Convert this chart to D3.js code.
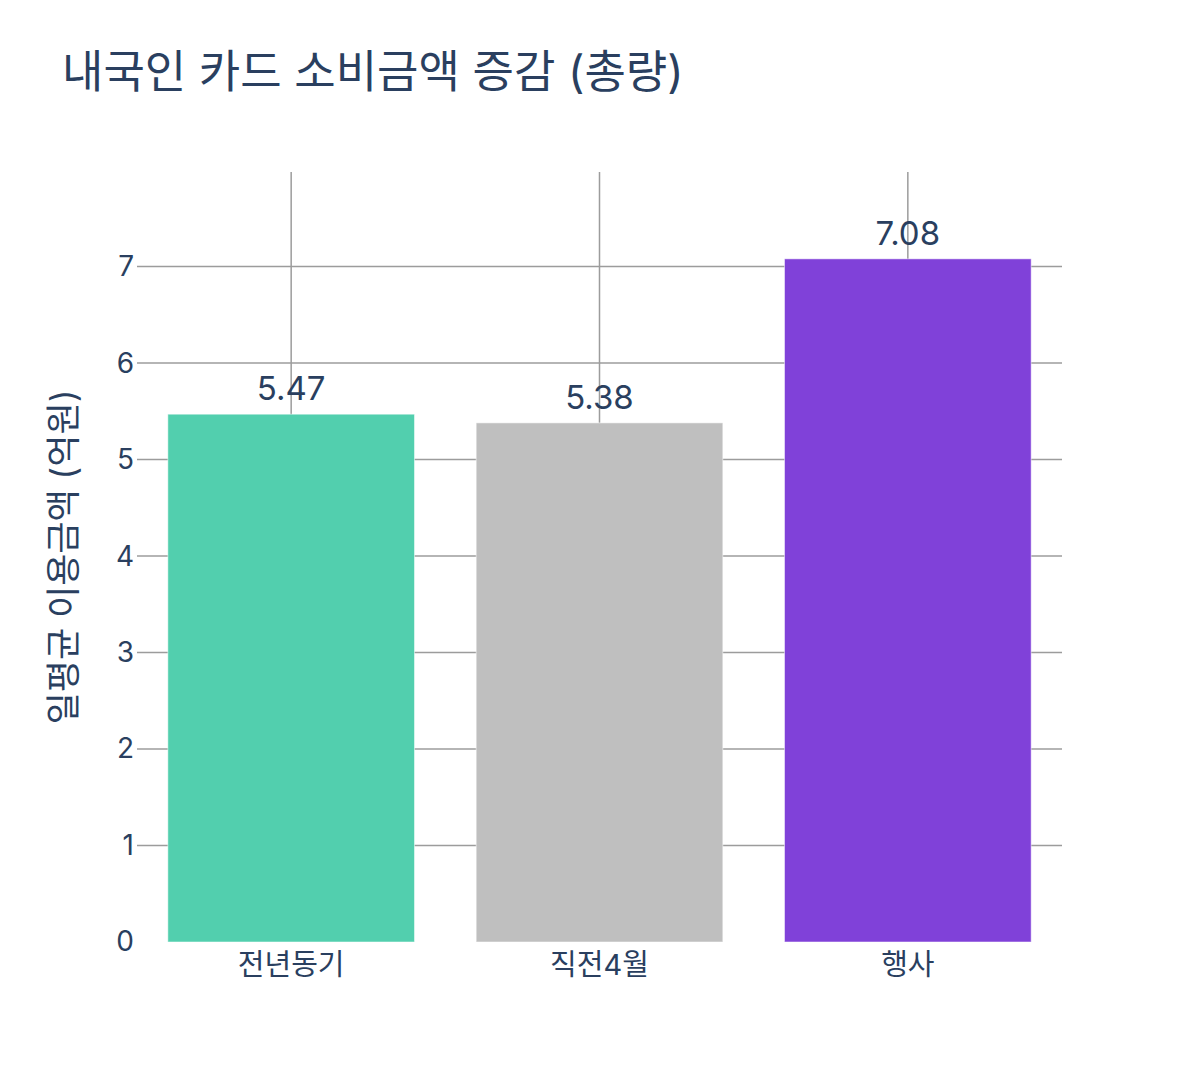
<!DOCTYPE html>
<html lang="ko">
<head>
  <meta charset="UTF-8">
  <title>내국인 카드 소비금액 증감 (총량)</title>
  <script src="https://d3js.org/d3.v7.min.js"></script>
  <style>
    body {
      margin: 0;
      padding: 0;
      background: #fff;
      font-family: Inter, 'Noto Sans CJK KR', sans-serif;
    }
    svg text { fill: #2a3f5f; }
  </style>
</head>
<body>
  <div id="chart"></div>
  <script>
    // 데이터
    const categories = ['전년동기', '직전4월', '행사'];
    const values = [5.47, 5.38, 7.08];
    const barColors = ['#52cfae', '#bfbfbf', '#8041d9'];
    const yTicks = [0, 1, 2, 3, 4, 5, 6, 7];

    const width = 1200, height = 1080;
    const margin = { top: 172, right: 138, bottom: 138, left: 137 };
    const innerW = width - margin.left - margin.right;
    const innerH = height - margin.top - margin.bottom;

    const svg = d3.select('#chart')
      .append('svg')
      .attr('width', width)
      .attr('height', height);

    // 제목
    svg.append('text')
      .attr('x', 62)
      .attr('y', 88)
      .style('font-size', '45px')
      .text('내국인 카드 소비금액 증감 (총량)');

    const g = svg.append('g')
      .attr('transform', `translate(${margin.left},${margin.top})`);

    const x = d3.scaleBand()
      .domain(categories)
      .range([0, innerW])
      .paddingInner(0.2)
      .paddingOuter(0.1);

    const y = d3.scaleLinear()
      .domain([0, 7.98])
      .range([innerH, 0]);

    // 가로 격자선
    g.selectAll('.hgrid')
      .data(yTicks.filter(d => d > 0))
      .enter()
      .append('line')
      .attr('x1', 0)
      .attr('x2', innerW)
      .attr('y1', d => y(d))
      .attr('y2', d => y(d))
      .attr('stroke', '#9c9c9c')
      .attr('stroke-width', 1.5);

    // 세로 격자선
    g.selectAll('.vgrid')
      .data(categories)
      .enter()
      .append('line')
      .attr('x1', d => x(d) + x.bandwidth() / 2)
      .attr('x2', d => x(d) + x.bandwidth() / 2)
      .attr('y1', 0)
      .attr('y2', innerH)
      .attr('stroke', '#9c9c9c')
      .attr('stroke-width', 1.5);

    // 막대
    g.selectAll('rect')
      .data(values)
      .enter()
      .append('rect')
      .attr('x', (d, i) => x(categories[i]))
      .attr('y', d => y(d))
      .attr('width', x.bandwidth())
      .attr('height', d => innerH - y(d))
      .attr('fill', (d, i) => barColors[i])
      .attr('stroke', '#ffffff')
      .attr('stroke-opacity', 0.5)
      .attr('stroke-width', 1);

    // 값 라벨
    g.selectAll('.val')
      .data(values)
      .enter()
      .append('text')
      .attr('x', (d, i) => x(categories[i]) + x.bandwidth() / 2)
      .attr('y', d => y(d) - 14)
      .attr('text-anchor', 'middle')
      .style('font-size', '33px')
      .text(d => d.toFixed(2));

    // y축 눈금
    const yAxis = g.append('g')
      .call(d3.axisLeft(y).tickValues(yTicks).tickSize(0).tickPadding(4));
    yAxis.select('.domain').remove();
    yAxis.selectAll('text')
      .attr('x', -3)
      .style('font-size', '28px')
      .style('font-family', "Inter, 'Noto Sans CJK KR', sans-serif")
      .attr('fill', '#2a3f5f');

    // x축 눈금
    const xAxis = g.append('g')
      .attr('transform', `translate(0,${innerH})`)
      .call(d3.axisBottom(x).tickSize(0).tickPadding(12));
    xAxis.select('.domain').remove();
    xAxis.selectAll('text')
      .style('font-size', '29px')
      .style('font-family', "Inter, 'Noto Sans CJK KR', sans-serif")
      .attr('fill', '#2a3f5f');

    // y축 제목
    svg.append('text')
      .attr('transform', `translate(76,${margin.top + innerH / 2}) rotate(-90)`)
      .attr('text-anchor', 'middle')
      .style('font-size', '35px')
      .text('일평균 이용금액 (억원)');
  </script>
</body>
</html>
